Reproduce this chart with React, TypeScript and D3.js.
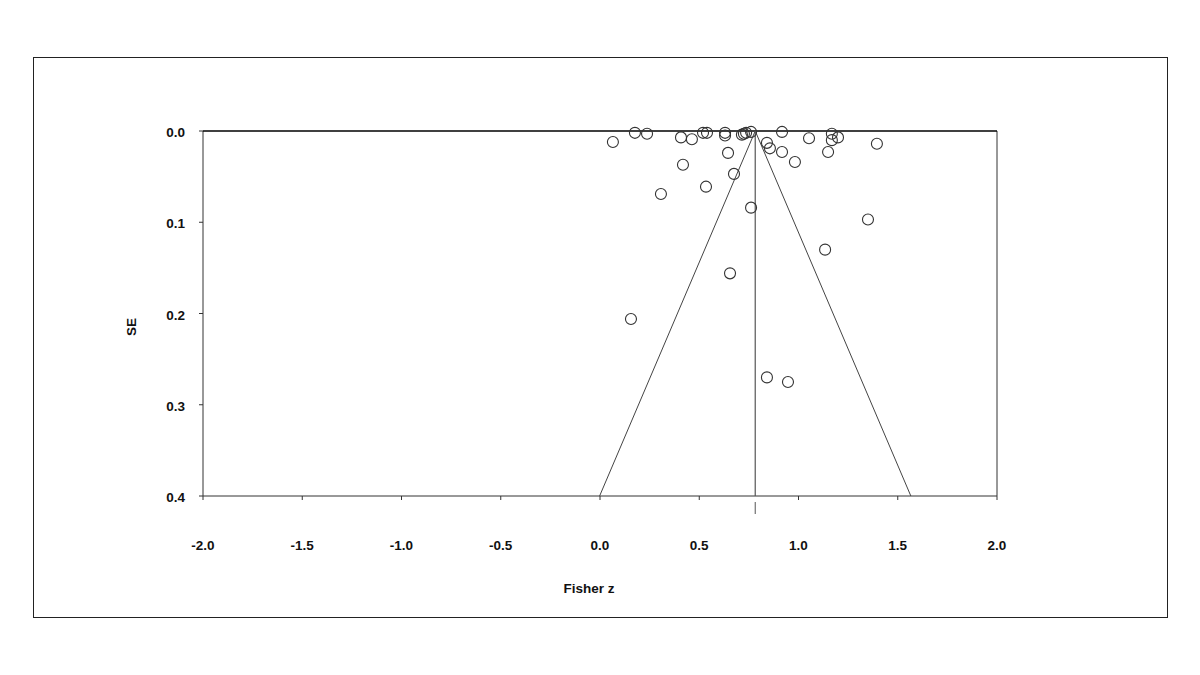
import React from "react";
import * as d3 from "d3";

// Study effect sizes (Fisher z) and their standard errors
const fisherZ: number[] = [
  0.065, 0.176, 0.237, 0.408, 0.463, 0.519, 0.539, 0.63, 0.63, 0.715, 0.725, 0.736,
  0.761, 0.917, 0.841, 0.856, 0.917, 0.982, 0.645, 1.053, 1.168, 1.168, 1.199, 1.149,
  1.395, 0.418, 0.307, 0.534, 0.675, 0.761, 0.156, 0.655, 1.134, 1.35, 0.841, 0.947,
];
const standardErrors: number[] = [
  0.012, 0.002, 0.003, 0.007, 0.009, 0.002, 0.002, 0.002, 0.005, 0.004, 0.003, 0.002,
  0.001, 0.001, 0.013, 0.019, 0.023, 0.034, 0.024, 0.008, 0.003, 0.01, 0.007, 0.023,
  0.014, 0.037, 0.069, 0.061, 0.047, 0.084, 0.206, 0.156, 0.13, 0.097, 0.27, 0.275,
];

// Pooled estimate and pseudo-confidence multiplier for the funnel
const pooledZ = 0.782;
const ciMultiplier = 1.96;
const seMax = 0.4;

const xTicks: number[] = [-2.0, -1.5, -1.0, -0.5, 0.0, 0.5, 1.0, 1.5, 2.0];
const yTicks: number[] = [0.0, 0.1, 0.2, 0.3, 0.4];

const W = 1200;
const H = 675;
const plot = { left: 203, right: 997, top: 131, bottom: 496 };
const font = "'Liberation Sans', Arial, sans-serif";
const fontSize = 13.5;

export default function App() {
  const x = d3.scaleLinear().domain([-2, 2]).range([plot.left, plot.right]);
  const y = d3.scaleLinear().domain([0, seMax]).range([plot.top, plot.bottom]);

  const line = d3
    .line<[number, number]>()
    .x((d) => x(d[0]))
    .y((d) => y(d[1]));

  const funnelLeft: [number, number][] = [
    [pooledZ, 0],
    [pooledZ - ciMultiplier * seMax, seMax],
  ];
  const funnelRight: [number, number][] = [
    [pooledZ, 0],
    [pooledZ + ciMultiplier * seMax, seMax],
  ];

  const points = fisherZ.map((z, i) => ({ z, se: standardErrors[i] }));

  return (
    <div style={{ position: "absolute", left: 0, top: 0 }}>
      <svg width={W} height={H} style={{ display: "block", background: "#fff" }}>
        {/* outer chart frame */}
        <rect x={33.5} y={57.5} width={1134} height={560} fill="none" stroke="#222" strokeWidth={1} />

        {/* plot area border */}
        <line x1={plot.left} x2={plot.left} y1={plot.top} y2={plot.bottom} stroke="#333" strokeWidth={1} />
        <line x1={plot.right} x2={plot.right} y1={plot.top} y2={plot.bottom} stroke="#333" strokeWidth={1} />
        <line x1={plot.left} x2={plot.right} y1={plot.bottom} y2={plot.bottom} stroke="#333" strokeWidth={1} />
        <line x1={plot.left} x2={plot.right} y1={plot.top} y2={plot.top} stroke="#000" strokeWidth={1.3} />

        {/* y ticks and labels */}
        {yTicks.map((t) => (
          <g key={"y" + t}>
            <line x1={plot.left - 4} x2={plot.left} y1={y(t)} y2={y(t)} stroke="#333" />
            <text
              x={185}
              y={y(t) + 6}
              textAnchor="end"
              fontFamily={font}
              fontWeight="bold"
              fontSize={fontSize}
              fill="#111"
            >
              {t.toFixed(1)}
            </text>
          </g>
        ))}

        {/* x ticks and labels */}
        {xTicks.map((t) => (
          <g key={"x" + t}>
            <line x1={x(t)} x2={x(t)} y1={plot.bottom} y2={plot.bottom + 4} stroke="#333" />
            <text
              x={x(t)}
              y={550}
              textAnchor="middle"
              fontFamily={font}
              fontWeight="bold"
              fontSize={fontSize}
              fill="#111"
            >
              {t.toFixed(1)}
            </text>
          </g>
        ))}

        {/* funnel */}
        <path d={line(funnelLeft) || ""} fill="none" stroke="#444" strokeWidth={1} />
        <path d={line(funnelRight) || ""} fill="none" stroke="#444" strokeWidth={1} />
        <line x1={x(pooledZ)} x2={x(pooledZ)} y1={plot.top} y2={plot.bottom} stroke="#555" strokeWidth={1.2} />
        <line x1={x(pooledZ)} x2={x(pooledZ)} y1={plot.bottom + 6} y2={plot.bottom + 18} stroke="#555" strokeWidth={1} />

        {/* studies */}
        {points.map((p, i) => (
          <circle
            key={i}
            cx={x(p.z)}
            cy={y(p.se)}
            r={5.5}
            fill="none"
            stroke="#333"
            strokeWidth={1.1}
          />
        ))}

        {/* axis titles */}
        <text
          x={589}
          y={593}
          textAnchor="middle"
          fontFamily={font}
          fontWeight="bold"
          fontSize={fontSize}
          fill="#111"
        >
          Fisher z
        </text>
        <text
          transform={`translate(136, 327) rotate(-90)`}
          textAnchor="middle"
          fontFamily={font}
          fontWeight="bold"
          fontSize={fontSize}
          fill="#111"
        >
          SE
        </text>
      </svg>
    </div>
  );
}
